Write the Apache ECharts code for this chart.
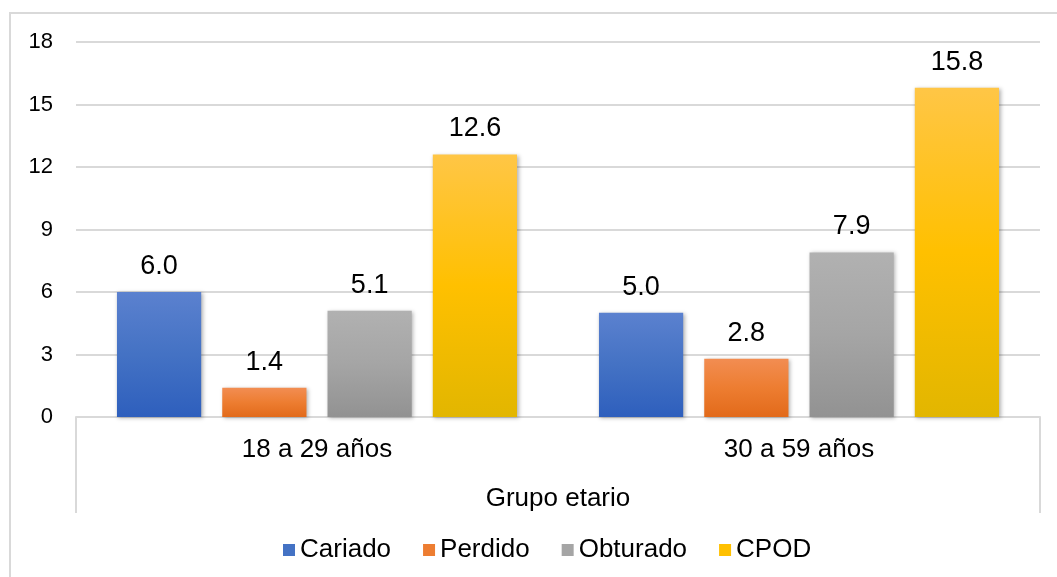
<!DOCTYPE html>
<html>
<head>
<meta charset="utf-8">
<script src="https://cdn.jsdelivr.net/npm/echarts@6/dist/echarts.min.js"></script>
<style>
html,body{margin:0;padding:0;background:#fff;}
#c{width:1057px;height:577px;}
</style>
</head>
<body>
<div id="c"></div>
<script>
var categories = ['18 a 29 años', '30 a 59 años'];
var seriesNames = ['Cariado', 'Perdido', 'Obturado', 'CPOD'];
var cariado = [6.0, 5.0];
var perdido = [1.4, 2.8];
var obturado = [5.1, 7.9];
var cpod = [12.6, 15.8];
var yTicks = [0, 3, 6, 9, 12, 15, 18];

var FONT = '"Liberation Sans", Arial, sans-serif';
var gridL = 76, gridR = 17, gridT = 42, gridB = 160;
var W = 1057, H = 577;

function grad(top, mid, bot) {
  return new echarts.graphic.LinearGradient(0, 0, 0, 1, [
    {offset: 0, color: top}, {offset: 0.5, color: mid}, {offset: 1, color: bot}
  ]);
}
var fills = [
  grad('#5b81cf', '#4472c4', '#2e5fbd'),
  grad('#f28d52', '#ed7d31', '#e26a1a'),
  grad('#b1b1b1', '#a5a5a5', '#929292'),
  grad('#ffc646', '#ffc000', '#e2b600')
];
var legendColors = ['#4472c4', '#ed7d31', '#a5a5a5', '#ffc000'];
var dataSets = [cariado, perdido, obturado, cpod];

var series = seriesNames.map(function (n, i) {
  return {
    name: n,
    type: 'bar',
    data: dataSets[i],
    barGap: '25%',
    barCategoryGap: '17%',
    itemStyle: {
      color: fills[i],
      shadowBlur: 4,
      shadowColor: 'rgba(0,0,0,0.3)',
      shadowOffsetX: 1.5,
      shadowOffsetY: 1
    },
    label: {
      show: true,
      position: 'top',
      distance: 12,
      color: '#000',
      fontFamily: FONT,
      fontSize: 27,
      formatter: function (p) { return p.value.toFixed(1); }
    },
    emphasis: {disabled: true}
  };
});

var chart = echarts.init(document.getElementById('c'), null, {renderer: 'canvas'});
chart.setOption({
  animation: false,
  backgroundColor: '#fff',
  grid: {left: gridL, right: gridR, top: gridT, bottom: gridB, containLabel: false},
  legend: {
    data: seriesNames.map(function (n, i) {
      return {name: n, itemStyle: {color: legendColors[i]}};
    }),
    bottom: 9,
    left: 278,
    itemWidth: 12,
    itemHeight: 12,
    itemGap: 32,
    icon: 'rect',
    textStyle: {fontFamily: FONT, fontSize: 26, color: '#000'}
  },
  xAxis: {
    type: 'category',
    data: categories,
    name: 'Grupo etario',
    nameLocation: 'middle',
    nameGap: 69,
    nameTextStyle: {fontFamily: FONT, fontSize: 26, color: '#000'},
    axisLine: {show: true, lineStyle: {color: '#d9d9d9', width: 2}},
    axisTick: {show: false},
    axisLabel: {fontFamily: FONT, fontSize: 26, color: '#000', margin: 20}
  },
  yAxis: {
    type: 'value',
    min: 0,
    max: 18,
    interval: 3,
    axisLine: {show: false},
    axisTick: {show: false},
    axisLabel: {
      fontFamily: FONT, fontSize: 22, color: '#000', margin: 23,
      formatter: function (v) { return yTicks.indexOf(v) >= 0 ? String(v) : ''; }
    },
    splitLine: {lineStyle: {color: '#d9d9d9', width: 2}}
  },
  series: series,
  graphic: [
    {type: 'rect', silent: true, z: -1,
      shape: {x: 10, y: 13, width: W + 20, height: H + 20},
      style: {fill: 'none', stroke: '#d9d9d9', lineWidth: 2}},
    {type: 'line', silent: true,
      shape: {x1: gridL, y1: H - gridB, x2: gridL, y2: H - gridB + 96},
      style: {stroke: '#d9d9d9', lineWidth: 2}},
    {type: 'line', silent: true,
      shape: {x1: W - gridR, y1: H - gridB, x2: W - gridR, y2: H - gridB + 96},
      style: {stroke: '#d9d9d9', lineWidth: 2}}
  ]
});
</script>
</body>
</html>
